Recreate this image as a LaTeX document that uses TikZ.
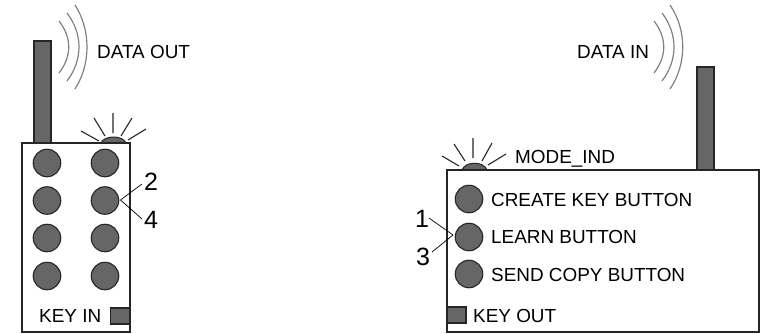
\documentclass[tikz,border=0pt]{standalone}
\usepackage{fontspec}
\setmainfont{Liberation Sans}
\definecolor{fillg}{HTML}{666666}
\definecolor{strk}{HTML}{262626}
\definecolor{wave}{HTML}{808080}
\tikzset{
 body/.style={draw=strk,line width=1.3pt,fill=white,inner sep=0pt},
 ant/.style={draw=strk,line width=1.3pt,fill=fillg},
 btn/.style={circle,draw=strk,line width=1.1pt,fill=fillg,minimum size=27.5pt,inner sep=0pt},
 ray/.style={draw=black!85,line width=1.1pt},
 wv/.style={draw=wave,line width=1.2pt},
 lab/.style={font=\fontsize{18.9}{19}\selectfont,anchor=base west,inner sep=0pt,text=black},
 num/.style={font=\fontsize{25}{25}\selectfont,inner sep=0pt,text=black},
 lead/.style={draw=black,line width=.7pt},
 sq/.style={draw=strk,line width=1.3pt,fill=fillg}
}
\begin{document}
\begin{tikzpicture}[x=1pt,y=-1pt]
\useasboundingbox (0,0) rectangle (762,333);
% left device
\draw[ant] (34,41) rectangle (51,143);
\draw[ant,line width=1pt] (101,143) .. controls (104,135) and (123,135) .. (126,143) -- cycle;
\draw[body] (22,143) rectangle (130,332);
\foreach \n/\x/\y in {a/47/163,b/105/163,c/47/200.5,d/105/200.5,e/47/238,f/105/238,g/47/276,h/105/276}
  \node[btn] (l\n) at (\x,\y) {};
\draw[ray] (81,131) -- (99,141) (94,118) -- (105,136) (113,113) -- (113,133) (132,118) -- (121,136) (146,129) -- (128,140);
\draw[wv] (59,21) .. controls (72,38) and (72,56) .. (59,73);
\draw[wv] (67,13) .. controls (83,34) and (83,60) .. (67,81);
\draw[wv] (75,5) .. controls (91,30) and (91,64) .. (75,89);
\node[lab] (dout) at (97,58) {DATA OUT};
\node[lab] (kin) at (39,322) {KEY IN};
\draw[sq] (110.5,308) rectangle (130,324);
\node[num] (n2) at (151,182) {2};
\node[num] (n4) at (151,220) {4};
\coordinate (pr) at (120.5,200);
\coordinate (e2) at (142,184);
\coordinate (e4) at (142,219);
\draw[lead] (e2) -- (pr) -- (e4);
% right device
\draw[ant] (697,67) rectangle (714,170);
\draw[ant,line width=1pt] (462,170) .. controls (465,161) and (484,161) .. (487,170) -- cycle;
\draw[body] (447,170) rectangle (759,332);
\node[btn] (ra) at (469,199) {};
\node[btn] (rb) at (469,237) {};
\node[btn] (rc) at (469,274) {};
\draw[ray] (442,156) -- (459,166) (454,144) -- (465,161) (473,138) -- (473,158) (492,143) -- (482,161) (506,154) -- (488,165);
\draw[wv] (654,21) .. controls (667,38) and (667,56) .. (654,73);
\draw[wv] (662,13) .. controls (678,34) and (678,60) .. (662,81);
\draw[wv] (670,5) .. controls (687,30) and (687,64) .. (670,89);
\node[lab] (din) at (577,58) {DATA IN};
\node[lab] (mode) at (515,163) {MODE\_IND};
\node[lab] (t1) at (491,206) {CREATE KEY BUTTON};
\node[lab] (t2) at (491,243) {LEARN BUTTON};
\node[lab] (t3) at (491,281) {SEND COPY BUTTON};
\draw[sq] (447,307) rectangle (466,323);
\node[lab] (kout) at (473,322) {KEY OUT};
\node[num] (n1) at (422,219) {1};
\node[num] (n3) at (423,257) {3};
\coordinate (pl) at (453,235);
\coordinate (e1) at (429,218);
\coordinate (e3) at (432,252);
\draw[lead] (e1) -- (pl) -- (e3);
\end{tikzpicture}
\end{document}
